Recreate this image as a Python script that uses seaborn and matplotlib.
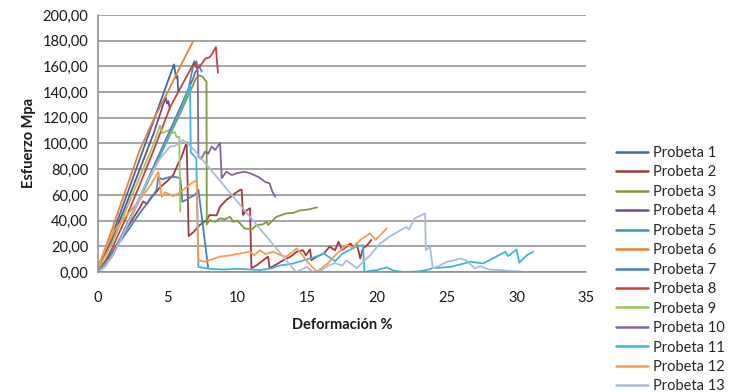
import matplotlib
matplotlib.use("Agg")
import matplotlib.pyplot as plt
from matplotlib.ticker import FuncFormatter, MultipleLocator
import seaborn as sns
import pandas as pd

# ---- data ----
p1_x = [0, 0.5, 1, 1.5, 2, 2.5, 3, 3.5, 4, 4.5, 5, 5.45, 5.6, 5.7, 5.75]
p1_y = [3, 14, 28, 43, 58, 73, 88, 103, 118, 133, 148, 161.5, 151, 152.5, 140]

p2_x = [0, 1, 2, 3, 3.25, 3.5, 3.8, 4.2, 4.45, 4.9, 5.4, 5.76, 6.0, 6.36, 6.5, 6.84, 7.3, 7.8, 8.0, 8.5,
        8.75, 9.2, 9.8, 10.2, 10.3, 10.4, 10.65, 10.9, 11.0, 11.4, 11.85, 12.2, 12.3, 12.8, 13.3, 13.8,
        14.25, 14.7, 14.9, 15.2, 15.3, 15.7, 16.2, 16.6, 17.0, 17.24, 17.5, 18.1, 18.3, 18.55, 18.8,
        19.0, 19.3, 19.6]
p2_y = [0, 15, 33, 50, 55, 53, 58, 62.5, 66, 70, 75.5, 84.6, 89.7, 101, 28, 31, 36.6, 40.5, 44.4, 44,
        50.8, 56, 61, 64, 64, 44.4, 48, 49.6, 3, 5.4, 9.3, 12, 3, 6, 9.3, 12,
        15.8, 17, 13, 17.6, 9.3, 12, 14.5, 19.7, 17, 23.6, 17, 22.3, 19, 22.3, 10.6,
        18.4, 21, 25]

p3_x = [0, 1, 2, 3, 4, 5, 6, 6.8, 7.0, 7.2, 7.5, 7.7, 7.78, 7.8, 8.0, 8.4, 8.75, 9.1, 9.47, 9.7, 10.0,
        10.5, 11.0, 11.4, 11.8, 12.1, 12.2, 12.5, 12.8, 13.5, 14.0, 14.5, 15.0, 15.7]
p3_y = [0, 12, 34, 57, 80, 103, 126, 145, 150, 153, 152, 149, 148, 37, 40.5, 39, 41.8, 41, 43, 39, 40,
        34, 33, 36.6, 37, 39, 36.6, 40, 43, 45.6, 46, 48, 48.5, 50.3]

p4_x = [0, 1, 2, 3, 4, 4.85, 4.95, 5.05, 5.15]
p4_y = [3, 25, 52, 80, 108, 136, 131, 133, 127]

p5_x = [0, 1, 2, 3, 4, 5, 6, 6.5, 6.89, 6.95, 7.05, 7.15, 7.25, 7.35, 7.44]
p5_y = [0, 12, 35, 58, 82, 106, 130, 143, 164, 160, 164, 160, 161, 158, 156]

p6_x = [0, 0.5, 1, 1.8, 3, 4, 5, 6, 6.8]
p6_y = [4, 18, 33, 58, 95, 119, 140, 162, 179]

p7_x = [0, 1, 2, 3, 4, 4.2, 4.33, 4.6, 5.05, 5.5, 5.9, 6.05, 6.3, 6.7, 6.96, 7.2, 7.9]
p7_y = [0, 15, 30, 46, 60, 64, 74, 72, 73.7, 74, 73, 54.7, 56, 58.6, 60, 64, 3]

p8_x = [0, 0.5, 1, 2, 3, 4, 5.16, 6, 6.9, 7.1, 7.3, 7.7, 8.0, 8.2, 8.45, 8.6]
p8_y = [2, 8, 18, 42, 68, 95, 128, 145, 163, 158, 160, 166, 167, 170, 175, 155]

p9_x = [0, 1, 2, 3, 4, 4.45, 4.6, 5.0, 5.16, 5.3, 5.5, 5.64, 5.83, 5.9]
p9_y = [2, 22, 48, 74, 100, 114, 108, 110, 111, 108, 109, 105, 105, 47]

p10_x = [0, 1, 2, 3, 4, 5, 6, 6.8, 7.0, 7.15, 7.2, 7.4, 7.68, 7.9, 8.15, 8.4, 8.75, 8.87, 9.2, 9.6,
         10.0, 10.5, 10.9, 11.5, 12.0, 12.3, 12.5, 12.7]
p10_y = [0, 13, 35, 58, 82, 106, 130, 150, 156, 157, 90, 88, 93.6, 92, 97.5, 95, 100.6, 73, 78, 75.5,
         77, 78, 76.8, 74, 70, 69, 62.5, 58.6]

p11_x = [0, 1, 2, 3, 4, 5, 6, 6.6, 6.65, 7.05, 7.2, 8, 9, 10, 11, 11.6, 12.5, 13, 14, 15.2, 15.8,
         16.2, 16.5, 17.0, 17.5, 18.0, 18.55, 19.0, 19.1, 19.5, 20, 20.7, 21.2, 22, 23, 23.5, 24,
         25.25, 26, 26.7, 27.6, 28.2, 29.2, 29.4, 30.0, 30.2, 30.75, 31.2]
p11_y = [0, 12, 34, 57, 80, 104, 128, 145.5, 93, 88.6, 4, 2.5, 2, 2.5, 2, 1.5, 3, 5, 6.7, 10.6, 12.5,
         14.5, 12, 8.5, 14, 17, 20, 21, 0, 1, 1.5, 3.6, 1, 0, 0.5, 1.5, 3,
         4, 6, 8, 6.7, 10, 15.8, 12.4, 17.6, 7.3, 13.2, 15.8]

p12_x = [0, 0.5, 1.2, 2.17, 3, 3.8, 4.33, 4.57, 4.8, 5.04, 5.4, 5.76, 6.24, 6.7, 7.07, 7.2, 7.6, 8.0,
         8.75, 9.5, 10.2, 10.9, 11.2, 11.6, 12.0, 12.6, 13.06, 13.5, 14.25, 14.6, 15.0, 15.7, 16.5,
         17.0, 17.8, 18.3, 18.8, 19.5, 19.9, 20.7]
p12_y = [3, 17, 32.7, 45.6, 56, 68, 78, 58.6, 62, 61, 59, 61, 65, 69, 71.6, 9.3, 8, 9.3,
         12, 13, 14.5, 15.8, 13, 17, 14, 15.8, 13.2, 12, 18.4, 14, 8, 0.3, 7,
         13, 21, 19, 25, 30, 25, 34]

p13_x = [0, 0.5, 1, 1.5, 2, 2.5, 3, 3.5, 4, 4.5, 5.16, 5.5, 5.76, 6.1, 6.36, 6.6, 6.9, 14.2, 14.6,
         15.0, 15.4, 16.0, 16.5, 17.0, 17.5, 17.8, 18.2, 18.55, 19.0, 19.5, 20.2, 20.9, 21.7, 22.1,
         22.3, 22.7, 23.45, 23.5, 23.8, 24.0, 24.5, 25.0, 25.5, 26.0, 26.4, 27.0, 27.4, 28.0, 28.8,
         30.75]
p13_y = [0, 4, 12, 22, 34, 46, 58, 70, 80, 89, 97.5, 98, 100, 102.7, 100, 98, 95, 0, 2,
         4, 0, 1, 5, 7, 5, 9, 6, 3, 8, 13, 22, 27.5, 32.7, 35,
         33, 41.8, 45.6, 17, 19.7, 3, 5, 8, 9, 10.6, 9, 3, 4.5, 2, 1.5,
         0]

labels = [f"Probeta {i}" for i in range(1, 14)]
colors = ["#3F6AA5", "#A33B3A", "#7D9B3F", "#6B4D8F", "#3A98B0", "#E3823B", "#4A7EC2",
          "#C9403F", "#9CC45C", "#8264A6", "#40B5D6", "#F99B4C", "#A8BCDD"]

xs = [p1_x, p2_x, p3_x, p4_x, p5_x, p6_x, p7_x, p8_x, p9_x, p10_x, p11_x, p12_x, p13_x]
ys = [p1_y, p2_y, p3_y, p4_y, p5_y, p6_y, p7_y, p8_y, p9_y, p10_y, p11_y, p12_y, p13_y]

frames = []
for lab, x, y in zip(labels, xs, ys):
    frames.append(pd.DataFrame({"x": x, "y": y, "serie": lab, "orden": range(len(x))}))
df = pd.concat(frames, ignore_index=True)

# ---- figure ----
sns.set_style("white")
plt.rcParams["font.family"] = ["Lato", "DejaVu Sans"]

fig = plt.figure(figsize=(7.31, 3.92), dpi=100)
ax = fig.add_axes([0.134, 0.306, 0.668, 0.656])

sns.lineplot(data=df, x="x", y="y", hue="serie", hue_order=labels,
             palette=dict(zip(labels, colors)), sort=False, estimator=None,
             linewidth=1.3, ax=ax, legend=False)

ax.set_xlim(0, 35)
ax.set_ylim(0, 200)
ax.xaxis.set_major_locator(MultipleLocator(5))
ax.yaxis.set_major_locator(MultipleLocator(20))
ax.yaxis.set_major_formatter(FuncFormatter(lambda v, p: f"{v:.2f}".replace(".", ",")))
ax.xaxis.set_major_formatter(FuncFormatter(lambda v, p: f"{int(v)}"))

grid_c = "#8C8C8C"
ax.grid(axis="y", color=grid_c, linewidth=1.1)
ax.grid(axis="x", visible=False)
ax.set_axisbelow(True)
for s in ["top", "right"]:
    ax.spines[s].set_visible(False)
for s in ["left", "bottom"]:
    ax.spines[s].set_color(grid_c)
    ax.spines[s].set_linewidth(1.1)
ax.tick_params(axis="both", which="both", length=4, width=1.1, color=grid_c,
               labelsize=10.5, labelcolor="#1a1a1a", direction="out")
ax.tick_params(axis="y", pad=3)
ax.tick_params(axis="x", pad=10)

ax.set_xlabel("Deformación %", fontsize=10.5, fontweight="bold", color="#1a1a1a", labelpad=9)
ax.set_ylabel("Esfuerzo Mpa", fontsize=10.5, fontweight="bold", color="#1a1a1a", labelpad=5)

handles = [plt.Line2D([0], [0], color=c, linewidth=1.8) for c in colors]
fig.legend(handles, labels, loc="upper left", bbox_to_anchor=(0.842, 0.628),
           frameon=False, fontsize=10.5, labelspacing=0.375, handlelength=2.2,
           handletextpad=0.35, borderpad=0, borderaxespad=0)

fig.savefig("out.png", dpi=100)
